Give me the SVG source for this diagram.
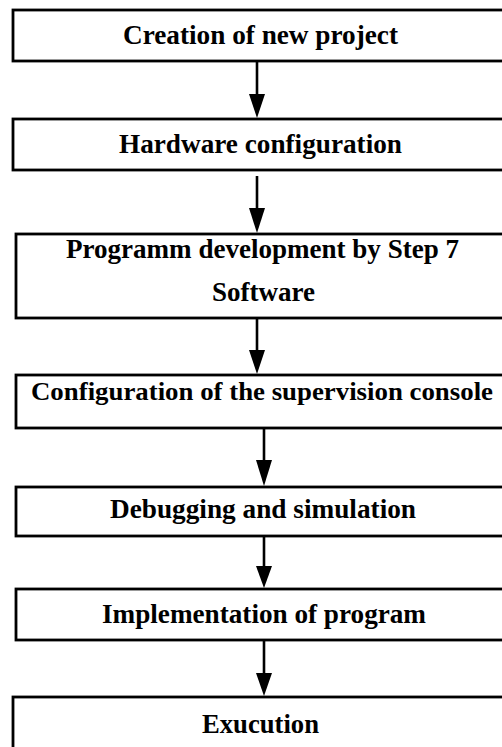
<svg xmlns="http://www.w3.org/2000/svg" width="502" height="747" viewBox="0 0 502 747">
<style>
.box{fill:#fff;stroke:#000;stroke-width:2.8}
.t{font-family:"Liberation Serif","Times New Roman",serif;font-weight:bold;font-size:28px;fill:#000}
.ln{stroke:#000;stroke-width:2.6;fill:none}
.hd{fill:#000}
</style>
<rect width="502" height="747" fill="#fff"/>
<g id="n1"><rect class="box" x="13" y="10" width="500" height="51"/><text class="t" x="123" y="44" textLength="275" lengthAdjust="spacingAndGlyphs">Creation of new project</text></g>
<g id="n2"><rect class="box" x="13" y="119" width="500" height="51"/><text class="t" x="119" y="153" textLength="283" lengthAdjust="spacingAndGlyphs">Hardware configuration</text></g>
<g id="n3"><rect class="box" x="16" y="234" width="500" height="84"/><text class="t" x="66" y="258" textLength="393" lengthAdjust="spacingAndGlyphs">Programm development by Step 7</text><text class="t" x="212" y="301" textLength="103" lengthAdjust="spacingAndGlyphs">Software</text></g>
<g id="n4"><rect class="box" x="16" y="375" width="500" height="53"/><text class="t" x="31" y="400" font-size="26" style="font-size:26px" textLength="462" lengthAdjust="spacingAndGlyphs">Configuration of the supervision console</text></g>
<g id="n5"><rect class="box" x="16" y="487" width="500" height="49"/><text class="t" x="110" y="518" textLength="306" lengthAdjust="spacingAndGlyphs">Debugging and simulation</text></g>
<g id="n6"><rect class="box" x="16" y="589" width="500" height="51"/><text class="t" x="102" y="623" textLength="324" lengthAdjust="spacingAndGlyphs">Implementation of program</text></g>
<g id="n7"><rect class="box" x="13" y="697" width="500" height="70"/><text class="t" x="202" y="733" textLength="117" lengthAdjust="spacingAndGlyphs">Exucution</text></g>
<g id="connectors">
<line class="ln" x1="257" y1="61" x2="257" y2="96"/><polygon class="hd" points="249,94 265,94 257,118"/>
<line class="ln" x1="257" y1="176" x2="257" y2="210"/><polygon class="hd" points="249,208 265,208 257,233"/>
<line class="ln" x1="257" y1="318" x2="257" y2="352"/><polygon class="hd" points="249,350 265,350 257,374"/>
<line class="ln" x1="264" y1="428" x2="264" y2="462"/><polygon class="hd" points="256,460 272,460 264,486"/>
<line class="ln" x1="264" y1="536" x2="264" y2="568"/><polygon class="hd" points="256,566 272,566 264,588"/>
<line class="ln" x1="264" y1="640" x2="264" y2="675"/><polygon class="hd" points="256,673 272,673 264,696"/>
</g>
</svg>
